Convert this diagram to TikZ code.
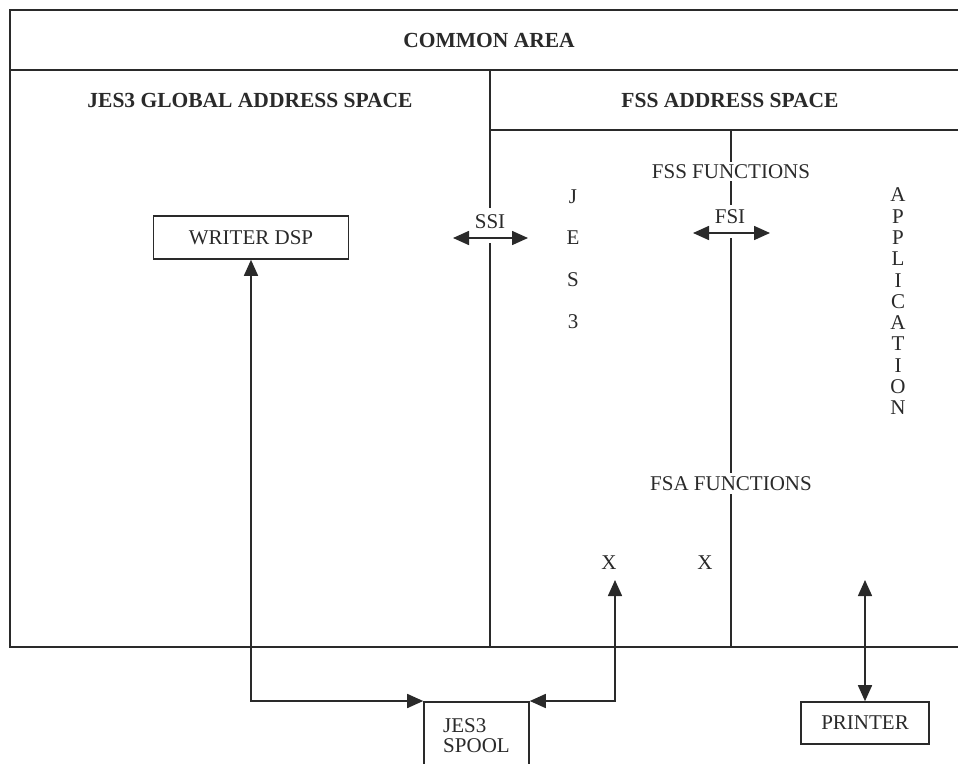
\documentclass[tikz,border=0pt]{standalone}
\usepackage{fontspec}
\setmainfont{Liberation Serif}
\usetikzlibrary{arrows.meta}
\definecolor{ink}{HTML}{2A2A2A}
\tikzset{
  ln/.style={draw=ink, line width=1.6pt},
  arr/.style={ln, {Triangle[length=16pt,width=14pt]}-{Triangle[length=16pt,width=14pt]}},
  lbl/.style={text=ink, inner sep=0pt, font=\fontsize{21}{20}\selectfont},
  hdr/.style={text=ink, inner sep=0pt, font=\fontsize{21.5}{24}\selectfont\bfseries},
  boxn/.style={ln, inner sep=0pt, text=ink, font=\fontsize{21}{20}\selectfont}
}
\begin{document}
\begin{tikzpicture}[x=1pt,y=-1pt]
\useasboundingbox (0,0) rectangle (958,763);
\clip (0,0) rectangle (958,763);
\fill[white] (0,0) rectangle (958,763);
% frame
\draw[ln] (10,10) rectangle (975,647);
\draw[ln] (10,70) -- (975,70);
\draw[ln] (490,130) -- (975,130);
\draw[ln] (490,70) -- (490,208);
\draw[ln] (490,243) -- (490,647);
\draw[ln] (731,130) -- (731,162);
\draw[ln] (731,181) -- (731,205);
\draw[ln] (731,238) -- (731,473);
\draw[ln] (731,494) -- (731,647);
% headers
\node[hdr] (common) at (489,40) {COMMON AREA};
\node[hdr] (global) at (250,100) {JES3 GLOBAL ADDRESS SPACE};
\node[hdr] (fss) at (730,100) {FSS ADDRESS SPACE};
% labels
\node[lbl] (fssf) at (731,172) {FSS FUNCTIONS};
\node[lbl] (fsaf) at (731,484) {FSA FUNCTIONS};
\node[lbl] (ssi) at (490,222) {SSI};
\node[lbl] (fsi) at (730,217) {FSI};
\coordinate (ssiL) at (453,238);
\coordinate (ssiR) at (528,238);
\coordinate (fsiL) at (693,233);
\coordinate (fsiR) at (770,233);
\draw[arr] (ssiL) -- (ssiR);
\draw[arr] (fsiL) -- (fsiR);
% JES3 vertical
\node[lbl] (j1) at (573,197) {J};
\node[lbl] (j2) at (573,238) {E};
\node[lbl] (j3) at (573,280) {S};
\node[lbl] (j4) at (573,322) {3};
% APPLICATION vertical
\foreach \c [count=\i from 0] in {A,P,P,L,I,C,A,T,I,O,N}{
  \node[lbl] (app\i) at (898,195+21.3*\i) {\c};
}
% X marks
\node[lbl] (x1) at (609,563) {X};
\node[lbl] (x2) at (705,563) {X};
% boxes
\node[boxn, minimum width=195pt, minimum height=43pt] (writer) at (251,237.5) {WRITER DSP};
\node[boxn, minimum width=105pt, minimum height=68pt, anchor=north, align=left] (spool) at (476.5,701) {JES3\\SPOOL};
\node[boxn, minimum width=128pt, minimum height=42pt] (printer) at (865,723) {PRINTER};
% connectors
\coordinate (c1) at (251,701);
\coordinate (c2) at (615,701);
\coordinate (xa) at (615,580);
\coordinate (pa) at (865,580);
\draw[arr] (writer.south) -- (c1) -- (spool.north west);
\draw[arr] (xa) -- (c2) -- (spool.north east);
\draw[arr] (pa) -- (printer.north);
\end{tikzpicture}
\end{document}
